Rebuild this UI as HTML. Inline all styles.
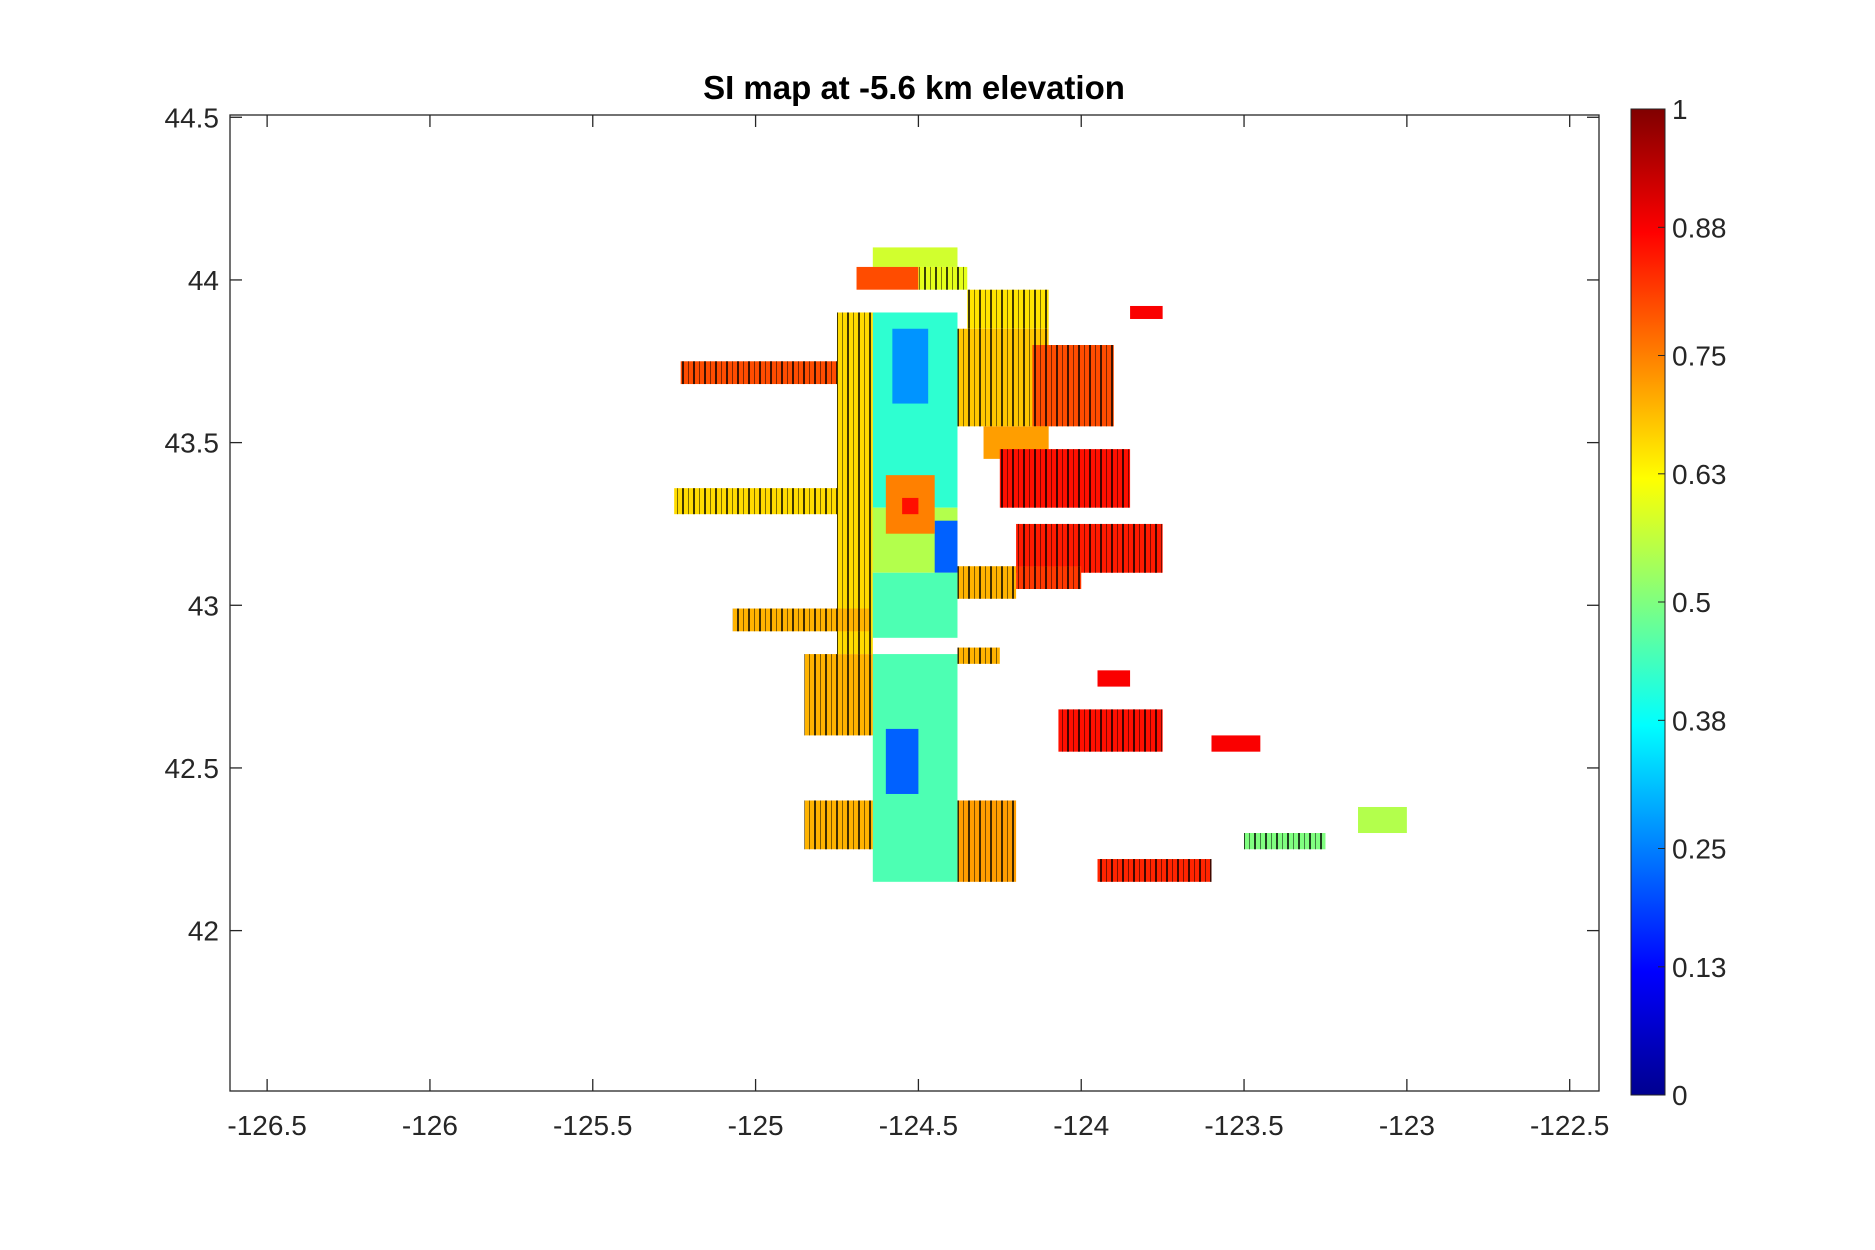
<!DOCTYPE html>
<html><head><meta charset="utf-8"><style>
html,body{margin:0;padding:0;background:#fff;width:1875px;height:1250px;overflow:hidden}
svg{display:block;font-family:"Liberation Sans",Arial,sans-serif}
</style></head><body>
<svg id="chart" width="1875" height="1250" viewBox="0 0 1875 1250" xmlns="http://www.w3.org/2000/svg">
<defs>
<pattern id="stripes" width="11" height="10" patternUnits="userSpaceOnUse">
<rect x="0" y="0" width="2" height="10" fill="#000" opacity="0.75"/>
<rect x="6" y="0" width="1" height="10" fill="#000" opacity="0.5"/>
</pattern>
<linearGradient id="jet" x1="0" y1="1" x2="0" y2="0">
<stop offset="0" stop-color="#00008f"/><stop offset="0.125" stop-color="#0000ff"/>
<stop offset="0.375" stop-color="#00ffff"/><stop offset="0.625" stop-color="#ffff00"/>
<stop offset="0.875" stop-color="#ff0000"/><stop offset="1" stop-color="#800000"/>
</linearGradient>
</defs>
<g id="marks"></g>
<rect x="230" y="115" width="1369" height="976" fill="none" stroke="#262626" stroke-width="1.3"/>
<text x="914" y="99" text-anchor="middle" font-size="33" font-weight="bold" fill="#000">SI map at -5.6 km elevation</text>
<g id="axes"></g>
<rect x="1631" y="109" width="34" height="986" fill="url(#jet)" stroke="#262626" stroke-width="1"/>
<g id="cbar"></g>
</svg>
<script>
const xTicks=[-126.5,-126,-125.5,-125,-124.5,-124,-123.5,-123,-122.5];
const yTicks=[44.5,44,43.5,43,42.5,42];
const cbTicks=[0,0.13,0.25,0.38,0.5,0.63,0.75,0.88,1];
// patches: lat bottom, lat top, lon west, lon east, SI value, textured(1/0)
const latB=[44.04,43.97,43.97,43.85,43.3,42.85,43.55,43.55,43.45,43.68,43.28,43.3,43.1,42.92,43.1,43.1,42.15,42.6,42.25,42.15,42.55,42.75,42.3,42.25,42.15,42.55,43.88,42.9,43.62,42.42,43.02,43.05,42.82,43.22,43.28];
const latT=[44.1,44.04,44.04,43.97,43.9,43.9,43.85,43.8,43.55,43.75,43.36,43.48,43.25,42.99,43.3,43.26,42.85,42.85,42.4,42.4,42.68,42.8,42.38,42.3,42.22,42.6,43.92,43.1,43.85,42.62,43.12,43.12,42.87,43.4,43.33];
const lonW=[-124.64,-124.69,-124.5,-124.35,-124.64,-124.75,-124.38,-124.15,-124.3,-125.23,-125.25,-124.25,-124.2,-125.07,-124.64,-124.45,-124.64,-124.85,-124.85,-124.38,-124.07,-123.95,-123.15,-123.5,-123.95,-123.6,-123.85,-124.64,-124.58,-124.6,-124.38,-124.2,-124.38,-124.6,-124.55];
const lonE=[-124.38,-124.5,-124.35,-124.1,-124.38,-124.64,-124.1,-123.9,-124.1,-124.75,-124.75,-123.85,-123.75,-124.65,-124.38,-124.38,-124.38,-124.64,-124.64,-124.2,-123.75,-123.85,-123.0,-123.25,-123.6,-123.45,-123.75,-124.38,-124.47,-124.5,-124.2,-124.0,-124.25,-124.45,-124.5];
const sival=[0.58,0.8,0.6,0.65,0.42,0.66,0.68,0.8,0.72,0.8,0.66,0.86,0.85,0.7,0.55,0.22,0.45,0.7,0.7,0.72,0.86,0.88,0.55,0.5,0.84,0.88,0.88,0.45,0.27,0.22,0.7,0.82,0.7,0.75,0.86];
const textured=[0,0,1,1,0,1,1,1,0,1,1,1,1,1,0,0,0,1,1,1,1,0,0,1,1,0,0,0,0,0,1,1,1,0,0];
const X0=230,X1=1599,Y0=115,Y1=1091,LON0=-126.614,LON1=-122.41,LAT0=41.507,LAT1=44.507;
const sx=v=>X0+(v-LON0)/(LON1-LON0)*(X1-X0);
const sy=v=>Y1-(v-LAT0)/(LAT1-LAT0)*(Y1-Y0);
const cy=v=>1095-v*986;
function jet(v){const f=t=>Math.max(0,Math.min(1,t));
const r=f(Math.min(4*v-1.5,-4*v+4.5)),g=f(Math.min(4*v-0.5,-4*v+3.5)),b=f(Math.min(4*v+0.5,-4*v+2.5));
return `rgb(${Math.round(r*255)},${Math.round(g*255)},${Math.round(b*255)})`;}
const NS='http://www.w3.org/2000/svg';
function mk(tag,attrs,parent){const e=document.createElementNS(NS,tag);for(const k in attrs)e.setAttribute(k,attrs[k]);parent.appendChild(e);return e;}
const marks=document.getElementById('marks');
for(let i=0;i<latB.length;i++){
 const x=sx(lonW[i]),w=sx(lonE[i])-x,y=sy(latT[i]),h=sy(latB[i])-y;
 const r=mk('rect',{x:x,y:y,width:w,height:h,fill:jet(sival[i])},marks);
 
 
 if(textured[i]){const t=mk('rect',{x:x,y:y,width:w,height:h,fill:'url(#stripes)'},marks);
 
 }
}
const axes=document.getElementById('axes');
xTicks.forEach(v=>{const x=sx(v);
 mk('line',{x1:x,y1:Y1,x2:x,y2:Y1-12,stroke:'#262626','stroke-width':1.3},axes);
 mk('line',{x1:x,y1:Y0,x2:x,y2:Y0+12,stroke:'#262626','stroke-width':1.3},axes);
 const t=mk('text',{x:x,y:1135,'text-anchor':'middle','font-size':28,fill:'#262626'},axes);t.textContent=String(v);
 
 });
yTicks.forEach(v=>{const y=sy(v);
 mk('line',{x1:X0,y1:y,x2:X0+12,y2:y,stroke:'#262626','stroke-width':1.3},axes);
 mk('line',{x1:X1,y1:y,x2:X1-12,y2:y,stroke:'#262626','stroke-width':1.3},axes);
 const t=mk('text',{x:219,y:y+10,'text-anchor':'end','font-size':28,fill:'#262626'},axes);t.textContent=String(v);
 
 });
const cb=document.getElementById('cbar');
cbTicks.forEach(v=>{const y=cy(v);
 mk('line',{x1:1658,y1:y,x2:1665,y2:y,stroke:'#262626','stroke-width':1},cb);
 const t=mk('text',{x:1672,y:y+10,'font-size':28,fill:'#262626'},cb);t.textContent=String(v);
 
 });
</script>
</body></html>
